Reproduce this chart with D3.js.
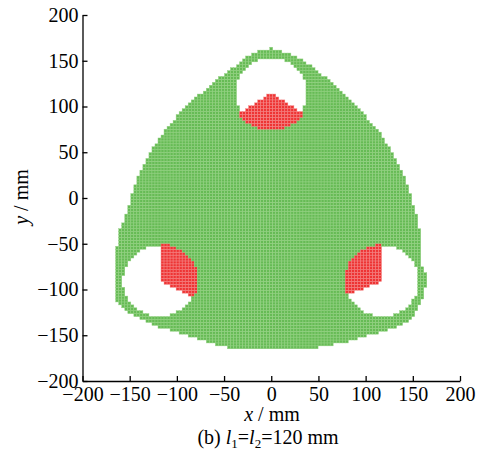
<!DOCTYPE html>
<html>
<head>
<meta charset="utf-8">
<script src="https://cdn.jsdelivr.net/npm/d3@7"></script>
<style>
  body { margin: 0; background: #fff; }
  text { font-family: "Liberation Serif", "Times New Roman", serif; fill: #000; }
</style>
</head>
<body>
<div id="chart"></div>
<script>
// Chart size
const width = 483;
const height = 450;

// Outer boundary of the workspace, [x, y] in mm (clockwise from the top)
const outline = [
    [0, 164], [16.5, 158.5], [37.7, 147.5], [51.5, 136.6], [69.5, 121.3],
    [80, 110.4], [97, 92.9], [115, 71], [128.6, 49.2], [139.2, 27.3],
    [146.6, 5.5], [153.5, -18.6], [157.3, -35], [157.3, -71], [164.4, -82],
    [164.4, -95], [160.6, -108], [155.3, -122.4], [146.8, -133.3], [133, -141],
    [115, -146.4], [97, -152], [80, -157.4], [62, -160.7], [33.5, -166.1],
    [-33.3, -166.1], [-65, -158.5], [-83.1, -151.9], [-100, -146.4], [-118, -141],
    [-136, -133.3], [-146.6, -127.9], [-157.2, -120.2], [-163.6, -111.5], [-163.6, -56.8],
    [-160.4, -35], [-154, -18.6], [-146.6, 5.5], [-139.2, 27.3], [-128.6, 49.2],
    [-114.8, 71], [-96.8, 92.9], [-78.8, 110.4], [-57.6, 128.9], [-33.3, 147.5],
    [-19.5, 158.5]
];

// Three holes (unreachable areas), centre [x, y] and radius in mm
const holeCenters = [[0, 114.8], [-118.3, -90.7], [117.6, -90.7]];
const holeRadius = [38, 39, 39];

// Red sectors inside the holes: start / end angle in degrees and radius in mm
const redStart = [214, -26, 90];
const redEnd = [326, 90, 202];
const redRadius = [41, 41, 40];

// Grid resolution of the search, mm
const gridStep = 3.2;

// Axis ticks
const xTicks = [-200, -150, -100, -50, 0, 50, 100, 150, 200];
const yTicks = [-200, -150, -100, -50, 0, 50, 100, 150, 200];

const xScale = d3.scaleLinear().domain([-200, 200]).range([82.5, 460]);
const yScale = d3.scaleLinear().domain([-200, 200]).range([381, 15]);

const svg = d3.select("#chart")
    .append("svg")
    .attr("width", width)
    .attr("height", height);

// Build the grid of points and sort them into green / red
function inRedSector(x, y) {
    for (let k = 0; k < holeCenters.length; k++) {
        const dx = x - holeCenters[k][0];
        const dy = y - holeCenters[k][1];
        if (Math.hypot(dx, dy) > redRadius[k]) continue;
        let a = Math.atan2(dy, dx) * 180 / Math.PI;
        let a0 = redStart[k];
        let a1 = redEnd[k];
        // shift the angle into the [a0, a0 + 360) window
        while (a < a0) a += 360;
        while (a >= a0 + 360) a -= 360;
        if (a <= a1) return true;
    }
    return false;
}

function inHole(x, y) {
    return holeCenters.some((c, k) => Math.hypot(x - c[0], y - c[1]) < holeRadius[k]);
}

const cells = [];
const n = Math.ceil(180 / gridStep);
for (let i = -n; i <= n; i++) {
    for (let j = -n; j <= n; j++) {
        const x = i * gridStep;
        const y = j * gridStep;
        if (inRedSector(x, y)) {
            cells.push({ x, y, type: "red" });
        } else if (d3.polygonContains(outline, [x, y]) && !inHole(x, y)) {
            cells.push({ x, y, type: "green" });
        }
    }
}

const cellW = xScale(gridStep) - xScale(0);
const cellH = yScale(0) - yScale(gridStep);

svg.append("g")
    .attr("class", "cells")
    .selectAll("rect")
    .data(cells)
    .enter()
    .append("rect")
    .attr("x", d => xScale(d.x - gridStep / 2))
    .attr("y", d => yScale(d.y + gridStep / 2))
    .attr("width", cellW)
    .attr("height", cellH)
    .attr("fill", d => d.type === "red" ? "#ee3434" : "#66bb55")
    .attr("stroke", d => d.type === "red" ? "#f48a8a" : "#97d386")
    .attr("stroke-width", 0.45);

// Axes (ticks pointing inward)
const xAxis = svg.append("g")
    .attr("transform", `translate(0, ${yScale(-200)})`)
    .call(d3.axisBottom(xScale).tickValues(xTicks).tickSizeInner(-5).tickSizeOuter(0).tickPadding(6));

const yAxis = svg.append("g")
    .attr("transform", `translate(${xScale(-200)}, 0)`)
    .call(d3.axisLeft(yScale).tickValues(yTicks).tickSizeInner(-5).tickSizeOuter(0).tickPadding(4));

[xAxis, yAxis].forEach(g => {
    g.selectAll("path, line").attr("stroke", "#000").attr("stroke-width", 1.3);
    g.selectAll("text")
        .style("font-family", "'Liberation Serif', serif")
        .style("font-size", "20px")
        .attr("fill", "#000");
});

// Axis titles
const xTitle = svg.append("text")
    .attr("x", 272)
    .attr("y", 421)
    .attr("text-anchor", "middle")
    .style("font-size", "20px");
xTitle.append("tspan").attr("font-style", "italic").text("x");
xTitle.append("tspan").text(" / mm");

const yTitle = svg.append("text")
    .attr("transform", "translate(28, 197) rotate(-90)")
    .attr("text-anchor", "middle")
    .style("font-size", "20px");
yTitle.append("tspan").attr("font-style", "italic").text("y");
yTitle.append("tspan").text(" / mm");

// Caption
const caption = svg.append("text")
    .attr("x", 268)
    .attr("y", 444)
    .attr("text-anchor", "middle")
    .style("font-size", "20px");
caption.append("tspan").text("(b) ");
caption.append("tspan").attr("font-style", "italic").text("l");
caption.append("tspan").attr("dy", 4).style("font-size", "13px").text("1");
caption.append("tspan").attr("dy", -4).text("=");
caption.append("tspan").attr("font-style", "italic").text("l");
caption.append("tspan").attr("dy", 4).style("font-size", "13px").text("2");
caption.append("tspan").attr("dy", -4).text("=120 mm");
</script>
</body>
</html>
